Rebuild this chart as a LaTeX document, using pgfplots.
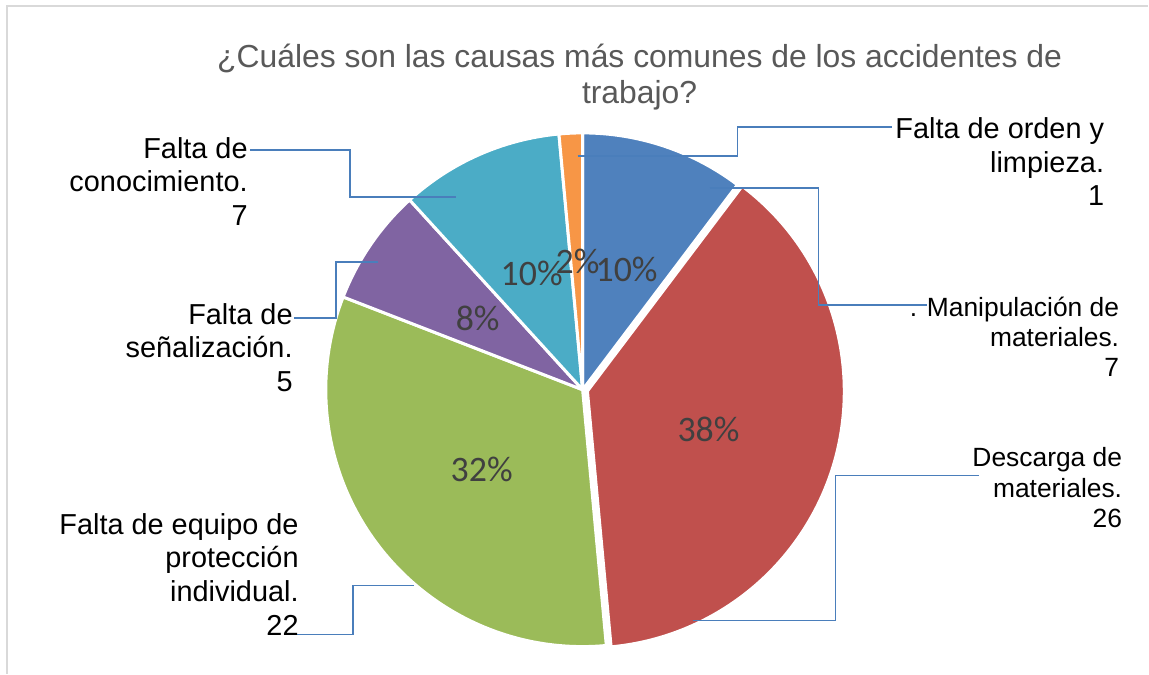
\documentclass[border=0pt]{standalone}
\usepackage{pgfplots}
\pgfplotsset{compat=1.18}
\usepackage{pgfplotstable}
\usetikzlibrary{calc}
\usepackage{fontspec}
\setmainfont{Liberation Sans}
\newfontfamily\calibri{Carlito}
\definecolor{sA}{HTML}{4F81BD}
\definecolor{sB}{HTML}{C0504D}
\definecolor{sC}{HTML}{9BBB59}
\definecolor{sD}{HTML}{8064A2}
\definecolor{sE}{HTML}{4BACC6}
\definecolor{sF}{HTML}{F79646}
\definecolor{leader}{HTML}{4A7EBB}
\definecolor{titlegray}{HTML}{595959}
\definecolor{pctgray}{HTML}{404040}
\definecolor{framegray}{HTML}{D9D9D9}

% values, clockwise from 12 o'clock
\pgfplotstableread{
slice value
Manipulacion 7
Descarga 26
Equipo 22
Senalizacion 5
Conocimiento 7
Orden 1
}\piedata

\pgfplotstablegetelem{0}{value}\of\piedata\let\vA\pgfplotsretval
\pgfplotstablegetelem{1}{value}\of\piedata\let\vB\pgfplotsretval
\pgfplotstablegetelem{2}{value}\of\piedata\let\vC\pgfplotsretval
\pgfplotstablegetelem{3}{value}\of\piedata\let\vD\pgfplotsretval
\pgfplotstablegetelem{4}{value}\of\piedata\let\vE\pgfplotsretval
\pgfplotstablegetelem{5}{value}\of\piedata\let\vF\pgfplotsretval
\pgfmathsetmacro\total{\vA+\vB+\vC+\vD+\vE+\vF}
\pgfmathsetmacro\aA{90}
\pgfmathsetmacro\aB{\aA-360*\vA/\total}
\pgfmathsetmacro\aC{\aB-360*\vB/\total}
\pgfmathsetmacro\aD{\aC-360*\vC/\total}
\pgfmathsetmacro\aE{\aD-360*\vD/\total}
\pgfmathsetmacro\aF{\aE-360*\vE/\total}
\pgfmathsetmacro\aG{\aF-360*\vF/\total}

\newcommand{\pieslice}[4]{%
  \fill[#3, draw=white, line width=3bp, line join=round]
    ($(axis cs:583,284)+({(#1+#2)/2}:#4bp)$) -- ++(#1:257bp)
    arc[start angle=#1, end angle=#2, radius=257bp] -- cycle;}
\newcommand{\lbl}{\fontsize{29}{34}\selectfont}
\newcommand{\lbls}{\fontsize{26.5}{30.5}\selectfont}
\newcommand{\pct}{\calibri\fontsize{36}{40}\selectfont}

\begin{document}
\begin{tikzpicture}
\begin{axis}[
  x=1bp, y=1bp,
  xmin=0, xmax=1149, ymin=0, ymax=674,
  hide axis, clip=false,
]
\path (axis cs:0,0) rectangle (axis cs:1149,674);
\draw[framegray, line width=1.5bp] (axis cs:7,0) -- (axis cs:7,668) -- (axis cs:1149,668);

\pieslice{\aA}{\aB}{sA}{0}
\pieslice{\aB}{\aC}{sB}{5}
\pieslice{\aC}{\aD}{sC}{0}
\pieslice{\aD}{\aE}{sD}{0}
\pieslice{\aE}{\aF}{sE}{0}
\pieslice{\aF}{\aG}{sF}{0}

% leader lines
\draw[leader, line width=1.5bp] (axis cs:250,524) -- (axis cs:350,524) -- (axis cs:350,477) -- (axis cs:456,477);
\draw[leader, line width=1.5bp] (axis cs:578,518) -- (axis cs:738,518) -- (axis cs:738,547) -- (axis cs:893,547);
\draw[leader, line width=1.5bp] (axis cs:710,486) -- (axis cs:819,486) -- (axis cs:819,369) -- (axis cs:928,369);
\draw[leader, line width=1.5bp] (axis cs:693,53) -- (axis cs:836,53) -- (axis cs:836,198) -- (axis cs:980,198);
\draw[leader, line width=1.5bp] (axis cs:292,39) -- (axis cs:353,39) -- (axis cs:353,88) -- (axis cs:414,88);
\draw[leader, line width=1.5bp] (axis cs:294,356) -- (axis cs:336,356) -- (axis cs:336,412) -- (axis cs:378,412);

% percentages
\node[pctgray, font=\pct, inner sep=0] at (axis cs:627,404) {10\%};
\node[pctgray, font=\pct, inner sep=0] at (axis cs:709,244) {38\%};
\node[pctgray, font=\pct, inner sep=0] at (axis cs:482,204) {32\%};
\node[pctgray, font=\pct, inner sep=0] at (axis cs:478,355) {8\%};
\node[pctgray, font=\pct, inner sep=0] at (axis cs:532,400) {10\%};
\node[pctgray, font=\pct, inner sep=0] at (axis cs:578,412) {2\%};

% category labels (anchored at the baseline of the last line)
\node[anchor=base east, align=right, font=\lbl, inner sep=0] at (axis cs:1105,468) {Falta de orden y\\limpieza.\\1};
\node[anchor=base east, align=right, font=\lbls, inner sep=0] at (axis cs:1120,297) {. Manipulación de\\materiales.\\7};
\node[anchor=base east, align=right, font=\lbls, inner sep=0] at (axis cs:1123,146) {Descarga de\\materiales.\\26};
\node[anchor=base east, align=right, font=\lbl, inner sep=0] at (axis cs:299,38) {Falta de equipo de\\protección\\individual.\\22};
\node[anchor=base east, align=right, font=\lbl, inner sep=0] at (axis cs:293,282) {Falta de\\señalización.\\5};
\node[anchor=base east, align=right, font=\lbl, inner sep=0] at (axis cs:248,448) {Falta de\\conocimiento.\\7};

% title
\node[anchor=base, align=center, titlegray, font=\fontsize{32}{37}\selectfont, inner sep=0] at (axis cs:640,570) {¿Cuáles son las causas más comunes de los accidentes de\\trabajo?};
\end{axis}
\end{tikzpicture}
\end{document}
